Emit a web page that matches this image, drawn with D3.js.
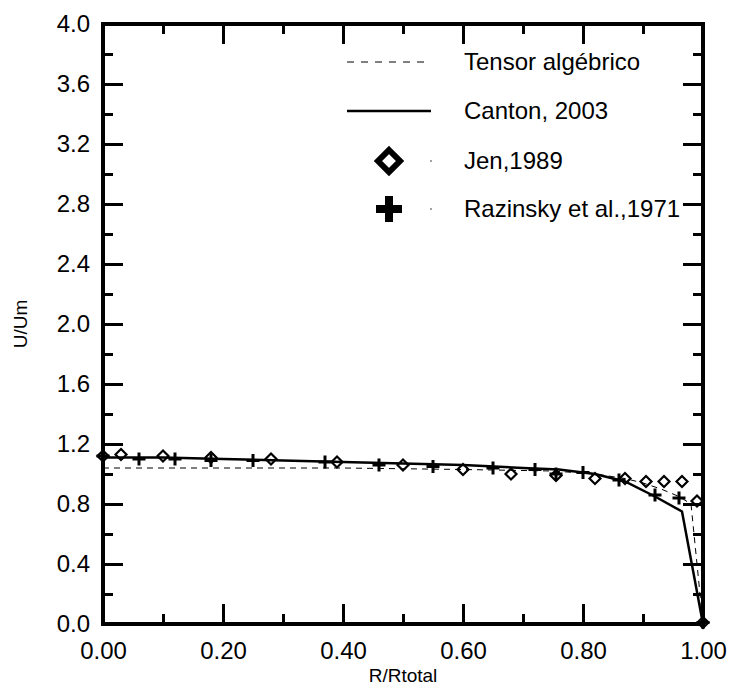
<!DOCTYPE html>
<html>
<head>
<meta charset="utf-8">
<script src="https://cdn.jsdelivr.net/npm/d3@7"></script>
<style>
  body { margin: 0; background: #fff; }
  text { font-family: "Liberation Sans", Arial, sans-serif; fill: #000; }
</style>
</head>
<body>
<svg id="chart" width="731" height="686"></svg>
<script>
// values
const tensorX = [0.00, 0.20, 0.40, 0.60, 0.75, 0.82, 0.87, 0.90, 0.93, 0.96, 0.98, 1.00]
const tensorY = [1.04, 1.04, 1.04, 1.03, 1.02, 1.00, 0.97, 0.94, 0.90, 0.85, 0.80, 0.00]

const cantonX = [0.00, 0.10, 0.20, 0.30, 0.40, 0.50, 0.60, 0.70, 0.76, 0.82, 0.87, 0.92, 0.965, 1.00]
const cantonY = [1.11, 1.11, 1.10, 1.09, 1.08, 1.07, 1.06, 1.04, 1.03, 1.00, 0.95, 0.85, 0.75, 0.00]

const jenX = [0.00, 0.03, 0.10, 0.18, 0.28, 0.39, 0.50, 0.60, 0.68, 0.755, 0.82, 0.87, 0.905, 0.935, 0.965, 0.99, 1.00]
const jenY = [1.12, 1.13, 1.12, 1.11, 1.10, 1.08, 1.06, 1.03, 1.00, 0.99, 0.97, 0.97, 0.95, 0.95, 0.95, 0.82, 0.01]

const razX = [0.00, 0.06, 0.12, 0.18, 0.25, 0.37, 0.46, 0.55, 0.65, 0.72, 0.755, 0.80, 0.86, 0.92, 0.96, 1.00]
const razY = [1.12, 1.10, 1.10, 1.09, 1.09, 1.08, 1.06, 1.05, 1.04, 1.03, 1.00, 1.01, 0.96, 0.86, 0.84, 0.01]

const xTicks = [0, 0.2, 0.4, 0.6, 0.8, 1.0]
const xMinor = [0.1, 0.3, 0.5, 0.7, 0.9]
const yTicks = [0, 0.4, 0.8, 1.2, 1.6, 2.0, 2.4, 2.8, 3.2, 3.6, 4.0]
const yMinor = [0.2, 0.6, 1.0, 1.4, 1.8, 2.2, 2.6, 3.0, 3.4, 3.8]

const legendNames = ['Tensor algébrico', 'Canton, 2003', 'Jen,1989', 'Razinsky et al.,1971']

const svg = d3.select('#chart')
const m = { left: 103, right: 703, top: 24, bottom: 624 }
const x = d3.scaleLinear().domain([0, 1]).range([m.left, m.right])
const y = d3.scaleLinear().domain([0, 4]).range([m.bottom, m.top])

const zip = (xs, ys) => xs.map((v, i) => [v, ys[i]])
const line = d3.line().x(d => x(d[0])).y(d => y(d[1]))

// curves
svg.append('path').datum(zip(tensorX, tensorY))
  .attr('d', line).attr('fill', 'none').attr('stroke', '#000')
  .attr('stroke-width', 1).attr('stroke-dasharray', '6,5')
svg.append('path').datum(zip(cantonX, cantonY))
  .attr('d', line).attr('fill', 'none').attr('stroke', '#000')
  .attr('stroke-width', 2.5)

// markers
const diamond = (cx, cy, r) => `M${cx},${cy - r}L${cx + r},${cy}L${cx},${cy + r}L${cx - r},${cy}Z`
const plus = (cx, cy, r) => `M${cx - r},${cy}H${cx + r}M${cx},${cy - r}V${cy + r}`

svg.append('g').selectAll('path').data(zip(jenX, jenY)).join('path')
  .attr('d', d => diamond(x(d[0]), y(d[1]), 5.5))
  .attr('fill', 'none').attr('stroke', '#000').attr('stroke-width', 2.2)
svg.append('g').selectAll('path').data(zip(razX, razY)).join('path')
  .attr('d', d => plus(x(d[0]), y(d[1]), 6.5))
  .attr('fill', 'none').attr('stroke', '#000').attr('stroke-width', 3)

// frame + axes
const axisG = svg.append('g')
const tickLen = 20, minorLen = 10
const addAxis = (axis, vals, len, tx, ty, fmt, pad) => {
  const g = axisG.append('g').attr('class', 'ax').attr('transform', `translate(${tx},${ty})`)
  axis.tickValues(vals).tickSizeInner(-len).tickSizeOuter(0).tickFormat(fmt || '').tickPadding(pad || 3)(g)
}
addAxis(d3.axisBottom(x), xTicks, tickLen, 0, m.bottom, d3.format('.2f'), 18)
addAxis(d3.axisBottom(x), xMinor, minorLen, 0, m.bottom)
addAxis(d3.axisTop(x), xTicks, tickLen, 0, m.top)
addAxis(d3.axisTop(x), xMinor, minorLen, 0, m.top)
addAxis(d3.axisLeft(y), yTicks, tickLen, m.left, 0, d3.format('.1f'), 13)
addAxis(d3.axisLeft(y), yMinor, minorLen, m.left, 0)
addAxis(d3.axisRight(y), yTicks, tickLen, m.right, 0)
addAxis(d3.axisRight(y), yMinor, minorLen, m.right, 0)

axisG.selectAll('.ax .domain').remove()
axisG.selectAll('.ax line').attr('stroke', '#000').attr('stroke-width', 3)
axisG.selectAll('.ax text').style('font-size', '24px').attr('fill', '#000')

svg.append('rect')
  .attr('x', m.left).attr('y', m.top).attr('width', m.right - m.left).attr('height', m.bottom - m.top)
  .attr('fill', 'none').attr('stroke', '#000').attr('stroke-width', 4)

// axis titles
svg.append('text').attr('x', (m.left + m.right) / 2).attr('y', 682)
  .attr('text-anchor', 'middle').style('font-size', '19px').text('R/Rtotal')
svg.append('text').attr('transform', `translate(27,${(m.top + m.bottom) / 2}) rotate(-90)`)
  .attr('text-anchor', 'middle').style('font-size', '19px').text('U/Um')

// legend
const lg = svg.append('g')
const rowY = [62, 111, 161, 209]
lg.append('line').attr('x1', 347).attr('x2', 431).attr('y1', rowY[0]).attr('y2', rowY[0])
  .attr('stroke', '#000').attr('stroke-width', 1).attr('stroke-dasharray', '7,7')
lg.append('line').attr('x1', 347).attr('x2', 431).attr('y1', rowY[1]).attr('y2', rowY[1])
  .attr('stroke', '#000').attr('stroke-width', 2.5)
lg.append('path').attr('d', diamond(389, rowY[2], 11))
  .attr('fill', 'none').attr('stroke', '#000').attr('stroke-width', 6)
lg.append('path').attr('d', plus(389, rowY[3], 13))
  .attr('fill', 'none').attr('stroke', '#000').attr('stroke-width', 8)
lg.selectAll('circle').data([rowY[2], rowY[3]]).join('circle')
  .attr('cx', 431).attr('cy', d => d).attr('r', 0.7).attr('fill', '#000')
lg.selectAll('text').data(legendNames).join('text')
  .attr('x', 464).attr('y', (d, i) => rowY[i] + 8)
  .style('font-size', '24px').text(d => d)
</script>
</body>
</html>
